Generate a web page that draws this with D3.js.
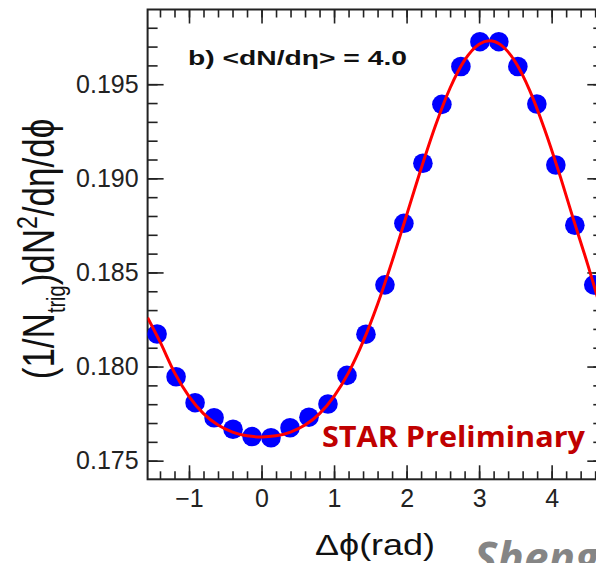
<!DOCTYPE html>
<html>
<head>
<meta charset="utf-8">
<script src="https://cdn.jsdelivr.net/npm/d3@7"></script>
<style>
  body { margin: 0; background: #fff; }
  svg { display: block; }
</style>
</head>
<body>
<div id="chart"></div>
<script>
/* DATA */
// bin centres of delta phi (rad)
const phiBins = [-1.440, -1.178, -0.916, -0.654, -0.393, -0.131, 0.131, 0.393, 0.654, 0.916, 1.178, 1.440,
                 1.702, 1.963, 2.225, 2.487, 2.749, 3.011, 3.272, 3.534, 3.796, 4.058, 4.320, 4.581];
// (1/Ntrig) dN^2/deta/dphi
const yieldVals = [0.18173, 0.17946, 0.17808, 0.17728, 0.17667, 0.17628, 0.17622, 0.17675, 0.17731, 0.17801, 0.17953, 0.18172,
                   0.18434, 0.18761, 0.19080, 0.19393, 0.19594, 0.19726, 0.19726, 0.19594, 0.19395, 0.19071, 0.18751, 0.18434];
// red fit curve, sampled along the picture
const fitPhi = [-1.5708, -1.4, -1.2, -1.0, -0.8, -0.6, -0.4, -0.2, 0, 0.2, 0.4, 0.6, 0.8, 1.0, 1.2, 1.4, 1.6, 1.8,
                2.0, 2.2, 2.4, 2.6, 2.8, 3.0, 3.1416, 3.3, 3.5, 3.7, 3.9, 4.1, 4.3, 4.5, 4.7124];
const fitVals = [0.1826, 0.18132, 0.17968, 0.17842, 0.17750, 0.17689, 0.17652, 0.17632, 0.17626, 0.17632, 0.17652, 0.17689,
                 0.17750, 0.17842, 0.17968, 0.18132, 0.18331, 0.18559, 0.18804, 0.19051, 0.19282, 0.19480, 0.19628, 0.19713,
                 0.19731, 0.19709, 0.19618, 0.19465, 0.19264, 0.19033, 0.18783, 0.18539, 0.1826];

const xMajorTicks = [-1, 0, 1, 2, 3, 4];
const yMajorTicks = [0.175, 0.180, 0.185, 0.190, 0.195];
const xDomain = [-Math.PI / 2, 3 * Math.PI / 2];
const yDomain = [0.17401, 0.19897];

/* CONSTANTS */
const width = 596, height = 563;
const frame = {left: 147.6, right: 603.3, top: 9.5, bottom: 479.3};
const axisColor = "#222";

const svg = d3.select("#chart").append("svg")
  .attr("width", width)
  .attr("height", height);

svg.append("rect").attr("width", width).attr("height", height).attr("fill", "#fff");

/* SCALES */
const xScale = d3.scaleLinear().domain(xDomain).range([frame.left, frame.right]);
const yScale = d3.scaleLinear().domain(yDomain).range([frame.bottom, frame.top]);

const xMinor = d3.range(-7, 24).map(i => i / 5);
const yMinor = d3.range(175, 199).map(i => i / 1000);

/* AXES (ticks drawn inwards, like ROOT) */
function styleAxis(g) {
  g.select(".domain").remove();
  g.selectAll(".tick line").attr("stroke", axisColor).attr("stroke-width", 1.6);
  g.selectAll(".tick text")
    .attr("fill", axisColor)
    .style("font-family", "'Liberation Sans', Arial, sans-serif")
    .style("font-size", "25px");
}

// bottom
svg.append("g").attr("transform", `translate(0,${frame.bottom})`)
  .call(d3.axisBottom(xScale).tickValues(xMinor).tickSize(-8).tickFormat(""))
  .call(styleAxis);
svg.append("g").attr("transform", `translate(0,${frame.bottom})`)
  .call(d3.axisBottom(xScale).tickValues(xMajorTicks).tickSize(-14).tickPadding(10).tickFormat(d3.format("d")))
  .call(styleAxis);
// top
svg.append("g").attr("transform", `translate(0,${frame.top})`)
  .call(d3.axisTop(xScale).tickValues(xMinor).tickSize(-8).tickFormat(""))
  .call(styleAxis);
svg.append("g").attr("transform", `translate(0,${frame.top})`)
  .call(d3.axisTop(xScale).tickValues(xMajorTicks).tickSize(-14).tickFormat(""))
  .call(styleAxis);
// left
svg.append("g").attr("transform", `translate(${frame.left},0)`)
  .call(d3.axisLeft(yScale).tickValues(yMinor).tickSize(-10).tickFormat(""))
  .call(styleAxis);
svg.append("g").attr("transform", `translate(${frame.left},0)`)
  .call(d3.axisLeft(yScale).tickValues(yMajorTicks).tickSize(-16).tickPadding(9).tickFormat(d3.format(".3f")))
  .call(styleAxis);
// right
svg.append("g").attr("transform", `translate(${frame.right},0)`)
  .call(d3.axisRight(yScale).tickValues(yMinor).tickSize(-10).tickFormat(""))
  .call(styleAxis);
svg.append("g").attr("transform", `translate(${frame.right},0)`)
  .call(d3.axisRight(yScale).tickValues(yMajorTicks).tickSize(-16).tickFormat(""))
  .call(styleAxis);

// frame
svg.append("rect")
  .attr("x", frame.left).attr("y", frame.top)
  .attr("width", frame.right - frame.left).attr("height", frame.bottom - frame.top)
  .attr("fill", "none").attr("stroke", axisColor).attr("stroke-width", 2);

/* MARKS */
svg.append("clipPath").attr("id", "plotclip")
  .append("rect")
  .attr("x", frame.left).attr("y", frame.top)
  .attr("width", frame.right - frame.left).attr("height", frame.bottom - frame.top);

svg.append("g").selectAll("circle")
  .data(phiBins.map((p, i) => ({phi: p, val: yieldVals[i]})))
  .join("circle")
  .attr("cx", d => xScale(d.phi))
  .attr("cy", d => yScale(d.val))
  .attr("r", 9.8)
  .attr("fill", "#0000ff");

const fitLine = d3.line()
  .x(d => xScale(d[0]))
  .y(d => yScale(d[1]))
  .curve(d3.curveMonotoneX);

svg.append("path")
  .datum(fitPhi.map((p, i) => [p, fitVals[i]]))
  .attr("clip-path", "url(#plotclip)")
  .attr("d", fitLine)
  .attr("fill", "none")
  .attr("stroke", "#ff0000")
  .attr("stroke-width", 3);

/* TEXT */
svg.append("text")
  .attr("x", 188).attr("y", 65)
  .attr("textLength", 219).attr("lengthAdjust", "spacingAndGlyphs")
  .style("font-family", "'Liberation Sans', Arial, sans-serif")
  .style("font-size", "21px").style("font-weight", "bold")
  .attr("fill", "#111")
  .text("b) <dN/dη> = 4.0");

svg.append("text")
  .attr("x", 322).attr("y", 447)
  .attr("textLength", 263).attr("lengthAdjust", "spacingAndGlyphs")
  .style("font-family", "'Open Sans', 'Noto Sans', sans-serif")
  .style("font-size", "28px").style("font-weight", "bold")
  .attr("fill", "#c00000")
  .text("STAR Preliminary");

// x axis title
svg.append("text")
  .attr("x", 315).attr("y", 555)
  .attr("textLength", 120).attr("lengthAdjust", "spacingAndGlyphs")
  .style("font-family", "'Liberation Sans', Arial, sans-serif")
  .style("font-size", "30px")
  .attr("fill", "#111")
  .text("Δϕ(rad)");

// y axis title (glyphs a bit wide, as in the picture)
const yTitle = svg.append("text")
  .attr("transform", "translate(54,249) scale(1.25,1) rotate(-90)")
  .attr("text-anchor", "middle")
  .style("font-family", "'Liberation Sans', Arial, sans-serif")
  .style("font-size", "35px")
  .attr("fill", "#111");
yTitle.append("tspan").text("(1/N");
yTitle.append("tspan").attr("dy", 9).style("font-size", "20px").text("trig");
yTitle.append("tspan").attr("dy", -9).text(")dN");
yTitle.append("tspan").attr("dy", -14).style("font-size", "23px").text("2");
yTitle.append("tspan").attr("dy", 14).text("/dη/dϕ");

// author name, cut off by the page edge as in the picture
svg.append("text")
  .attr("x", 474).attr("y", 574)
  .style("font-family", "'Open Sans', 'Noto Sans', sans-serif")
  .style("font-size", "44px").style("font-weight", "bold").style("font-style", "italic")
  .attr("fill", "#858585")
  .text("Sheng");
</script>
</body>
</html>
